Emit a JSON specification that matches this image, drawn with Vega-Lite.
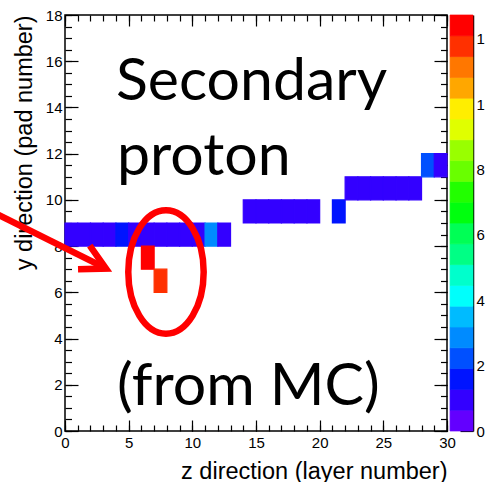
{
  "$schema": "https://vega.github.io/schema/vega-lite/v6.json",
  "width": 382,
  "height": 416,
  "autosize": {"type": "none"},
  "padding": {"left": 65, "top": 15, "right": 38, "bottom": 51},
  "background": "white",
  "config": {
    "view": {"stroke": "#000000", "strokeWidth": 1.5},
    "axis": {
      "grid": false, "domain": false, "tickColor": "#000000", "tickWidth": 1.2,
      "labelColor": "#000000", "labelFont": "Liberation Sans", "labelFontSize": 15,
      "titleFont": "Liberation Sans", "titleFontSize": 23.5, "titleFontWeight": "normal",
      "titleColor": "#000000", "labelFlush": false, "labelOverlap": false
    }
  },
  "resolve": {"scale": {"y": "independent"}, "axis": {"x": "independent", "y": "independent"}},
  "layer": [
    {
      "data": {"values": [
        {"layer": 0.5, "pad": 8.5, "hits": 1.0},
        {"layer": 1.5, "pad": 8.5, "hits": 1.0},
        {"layer": 2.5, "pad": 8.5, "hits": 1.0},
        {"layer": 3.5, "pad": 8.5, "hits": 1.0},
        {"layer": 4.5, "pad": 8.5, "hits": 1.5},
        {"layer": 5.5, "pad": 8.5, "hits": 1.0},
        {"layer": 6.5, "pad": 8.5, "hits": 1.0},
        {"layer": 7.5, "pad": 8.5, "hits": 1.0},
        {"layer": 8.5, "pad": 8.5, "hits": 1.0},
        {"layer": 9.5, "pad": 8.5, "hits": 1.0},
        {"layer": 10.5, "pad": 8.5, "hits": 1.0},
        {"layer": 11.5, "pad": 8.5, "hits": 2.8},
        {"layer": 12.5, "pad": 8.5, "hits": 1.0},
        {"layer": 6.5, "pad": 7.5, "hits": 12.5},
        {"layer": 7.5, "pad": 6.5, "hits": 11.8},
        {"layer": 14.5, "pad": 9.5, "hits": 1.0},
        {"layer": 15.5, "pad": 9.5, "hits": 1.0},
        {"layer": 16.5, "pad": 9.5, "hits": 1.0},
        {"layer": 17.5, "pad": 9.5, "hits": 1.0},
        {"layer": 18.5, "pad": 9.5, "hits": 1.0},
        {"layer": 19.5, "pad": 9.5, "hits": 1.0},
        {"layer": 21.5, "pad": 9.5, "hits": 1.5},
        {"layer": 22.5, "pad": 10.5, "hits": 1.0},
        {"layer": 23.5, "pad": 10.5, "hits": 1.0},
        {"layer": 24.5, "pad": 10.5, "hits": 1.0},
        {"layer": 25.5, "pad": 10.5, "hits": 1.0},
        {"layer": 26.5, "pad": 10.5, "hits": 1.0},
        {"layer": 27.5, "pad": 10.5, "hits": 1.0},
        {"layer": 28.5, "pad": 11.5, "hits": 2.2},
        {"layer": 29.5, "pad": 11.5, "hits": 1.0}
      ]},
      "mark": {"type": "rect", "width": 12.73, "height": 23.11, "strokeWidth": 1.2},
      "encoding": {
        "x": {"field": "layer", "type": "quantitative",
              "scale": {"domain": [0, 30], "nice": false, "zero": false},
              "axis": {"orient": "bottom", "values": [0, 5, 10, 15, 20, 25, 30], "tickSize": -11,
                       "labelPadding": 15, "title": "z direction (layer number)", "titleAnchor": "end", "titlePadding": 9}},
        "y": {"field": "pad", "type": "quantitative",
              "scale": {"domain": [0, 18], "nice": false, "zero": false},
              "axis": {"orient": "left", "values": [0, 2, 4, 6, 8, 10, 12, 14, 16, 18], "tickSize": -13,
                       "labelPadding": 16, "title": "y direction (pad number)", "titleAnchor": "end", "titlePadding": 9}},
        "color": {"field": "hits", "type": "quantitative",
                  "scale": {"type": "quantize", "domain": [0, 12.73],
                            "range": ["#6300ff", "#3300ff", "#0014ff", "#0050ff", "#008bff", "#00bbff", "#00fffc", "#00ffcc", "#00ff85", "#00ff55", "#00ff0e", "#22ff00", "#69ff00", "#99ff00", "#e0ff00", "#ffee00", "#ffa700", "#ff7700", "#ff3000", "#ff0000"]},
                  "legend": null},
        "stroke": {"field": "hits", "type": "quantitative",
                  "scale": {"type": "quantize", "domain": [0, 12.73],
                            "range": ["#6300ff", "#3300ff", "#0014ff", "#0050ff", "#008bff", "#00bbff", "#00fffc", "#00ffcc", "#00ff85", "#00ff55", "#00ff0e", "#22ff00", "#69ff00", "#99ff00", "#e0ff00", "#ffee00", "#ffa700", "#ff7700", "#ff3000", "#ff0000"]},
                  "legend": null}
      }
    },
    {
      "data": {"values": [{}]},
      "mark": {"type": "text", "text": "Secondary", "font": "Lato", "fontSize": 59, "align": "left", "baseline": "alphabetic", "fill": "#000000"},
      "encoding": {
        "x": {"datum": 4.0, "type": "quantitative", "scale": {"domain": [0, 30], "nice": false, "zero": false},
              "axis": {"orient": "bottom", "values": [0,1,2,3,4,5,6,7,8,9,10,11,12,13,14,15,16,17,18,19,20,21,22,23,24,25,26,27,28,29,30], "tickSize": -6, "labels": false, "title": null}},
        "y": {"datum": 14.32, "type": "quantitative", "scale": {"domain": [0, 18], "nice": false, "zero": false},
              "axis": {"orient": "left", "values": [0,0.5,1,1.5,2,2.5,3,3.5,4,4.5,5,5.5,6,6.5,7,7.5,8,8.5,9,9.5,10,10.5,11,11.5,12,12.5,13,13.5,14,14.5,15,15.5,16,16.5,17,17.5,18], "tickSize": -6.5, "labels": false, "title": null}}
      }
    },
    {
      "data": {"values": [{}]},
      "mark": {"type": "text", "text": "proton", "font": "Lato", "fontSize": 59, "align": "left", "baseline": "alphabetic", "fill": "#000000"},
      "encoding": {
        "x": {"datum": 4.08, "type": "quantitative", "scale": {"domain": [0, 30], "nice": false, "zero": false},
              "axis": {"orient": "top", "values": [0, 5, 10, 15, 20, 25, 30], "tickSize": -11, "labels": false, "title": null}},
        "y": {"datum": 11.08, "type": "quantitative", "scale": {"domain": [0, 18], "nice": false, "zero": false},
              "axis": {"orient": "right", "values": [0, 2, 4, 6, 8, 10, 12, 14, 16, 18], "tickSize": -13, "labels": false, "title": null}}
      }
    },
    {
      "data": {"values": [{}]},
      "mark": {"type": "text", "text": "(from MC)", "font": "Lato", "fontSize": 59, "align": "left", "baseline": "alphabetic", "fill": "#000000"},
      "encoding": {
        "x": {"datum": 4.08, "type": "quantitative", "scale": {"domain": [0, 30], "nice": false, "zero": false},
              "axis": {"orient": "top", "values": [0,1,2,3,4,5,6,7,8,9,10,11,12,13,14,15,16,17,18,19,20,21,22,23,24,25,26,27,28,29,30], "tickSize": -6, "labels": false, "title": null}},
        "y": {"datum": 1.125, "type": "quantitative", "scale": {"domain": [0, 18], "nice": false, "zero": false},
              "axis": {"orient": "right", "values": [0,0.5,1,1.5,2,2.5,3,3.5,4,4.5,5,5.5,6,6.5,7,7.5,8,8.5,9,9.5,10,10.5,11,11.5,12,12.5,13,13.5,14,14.5,15,15.5,16,16.5,17,17.5,18], "tickSize": -6.5, "labels": false, "title": null}}
      }
    },
    {
      "data": {"values": [{}]},
      "mark": {"type": "point", "shape": "M 0 -1 C 0.3375 -1 0.611 -0.5523 0.611 0 C 0.611 0.5523 0.3375 1 0 1 C -0.3375 1 -0.611 0.5523 -0.611 0 C -0.611 -0.5523 -0.3375 -1 0 -1 Z",
               "filled": false, "stroke": "#ff0000", "strokeWidth": 6.5, "size": 15228, "opacity": 1},
      "encoding": {
        "x": {"datum": 7.93, "type": "quantitative", "scale": {"domain": [0, 30], "nice": false, "zero": false}, "axis": null},
        "y": {"datum": 6.88, "type": "quantitative", "scale": {"domain": [0, 18], "nice": false, "zero": false}, "axis": null}
      }
    },
    {
      "data": {"values": [{}]},
      "mark": {"type": "rule", "stroke": "#ff0000", "strokeWidth": 6.5, "strokeCap": "butt"},
      "encoding": {
        "x": {"datum": -5.5, "type": "quantitative", "scale": {"domain": [0, 30], "nice": false, "zero": false}, "axis": null},
        "y": {"datum": 9.43, "type": "quantitative", "scale": {"domain": [0, 18], "nice": false, "zero": false}, "axis": null},
        "x2": {"datum": 2.905},
        "y2": {"datum": 7.12}
      }
    },
    {
      "data": {"values": [{}]},
      "mark": {"type": "point", "shape": "M -0.883 -0.469 L 0 0 L -0.883 0.469", "filled": false, "stroke": "#ff0000",
               "strokeWidth": 6.5, "strokeJoin": "miter", "strokeCap": "butt", "size": 3136, "angle": 26.6, "opacity": 1},
      "encoding": {
        "x": {"datum": 3.22, "type": "quantitative", "scale": {"domain": [0, 30], "nice": false, "zero": false}, "axis": null},
        "y": {"datum": 7.03, "type": "quantitative", "scale": {"domain": [0, 18], "nice": false, "zero": false}, "axis": null}
      }
    },
    {
      "data": {"values": [
        {"z0": 0, "z1": 0.6365, "zm": 0.318},
        {"z0": 0.6365, "z1": 1.273, "zm": 0.955},
        {"z0": 1.273, "z1": 1.9095, "zm": 1.591},
        {"z0": 1.9095, "z1": 2.546, "zm": 2.228},
        {"z0": 2.546, "z1": 3.1825, "zm": 2.864},
        {"z0": 3.1825, "z1": 3.819, "zm": 3.501},
        {"z0": 3.819, "z1": 4.4555, "zm": 4.137},
        {"z0": 4.4555, "z1": 5.092, "zm": 4.774},
        {"z0": 5.092, "z1": 5.7285, "zm": 5.41},
        {"z0": 5.7285, "z1": 6.365, "zm": 6.047},
        {"z0": 6.365, "z1": 7.0015, "zm": 6.683},
        {"z0": 7.0015, "z1": 7.638, "zm": 7.32},
        {"z0": 7.638, "z1": 8.2745, "zm": 7.956},
        {"z0": 8.2745, "z1": 8.911, "zm": 8.593},
        {"z0": 8.911, "z1": 9.5475, "zm": 9.229},
        {"z0": 9.5475, "z1": 10.184, "zm": 9.866},
        {"z0": 10.184, "z1": 10.8205, "zm": 10.502},
        {"z0": 10.8205, "z1": 11.457, "zm": 11.139},
        {"z0": 11.457, "z1": 12.0935, "zm": 11.775},
        {"z0": 12.0935, "z1": 12.73, "zm": 12.412}
      ]},
      "mark": {"type": "rect", "strokeWidth": 0.7},
      "encoding": {
        "x": {"datum": 30.24, "type": "quantitative", "scale": {"domain": [0, 30], "nice": false, "zero": false}, "axis": null},
        "x2": {"datum": 32.04},
        "y": {"field": "z0", "type": "quantitative", "scale": {"domain": [0, 12.73], "nice": false, "zero": false},
              "axis": {"orient": "right", "offset": 26, "values": [0, 2, 4, 6, 8, 10, 12], "tickSize": -13, "labelPadding": 16,
                       "title": null, "domain": true, "domainColor": "#000000", "domainWidth": 1.5}},
        "y2": {"field": "z1"},
        "color": {"field": "zm", "type": "quantitative",
                  "scale": {"type": "quantize", "domain": [0, 12.73],
                            "range": ["#6300ff", "#3300ff", "#0014ff", "#0050ff", "#008bff", "#00bbff", "#00fffc", "#00ffcc", "#00ff85", "#00ff55", "#00ff0e", "#22ff00", "#69ff00", "#99ff00", "#e0ff00", "#ffee00", "#ffa700", "#ff7700", "#ff3000", "#ff0000"]},
                  "legend": null},
        "stroke": {"field": "zm", "type": "quantitative",
                  "scale": {"type": "quantize", "domain": [0, 12.73],
                            "range": ["#6300ff", "#3300ff", "#0014ff", "#0050ff", "#008bff", "#00bbff", "#00fffc", "#00ffcc", "#00ff85", "#00ff55", "#00ff0e", "#22ff00", "#69ff00", "#99ff00", "#e0ff00", "#ffee00", "#ffa700", "#ff7700", "#ff3000", "#ff0000"]},
                  "legend": null}
      }
    }
  ]
}
